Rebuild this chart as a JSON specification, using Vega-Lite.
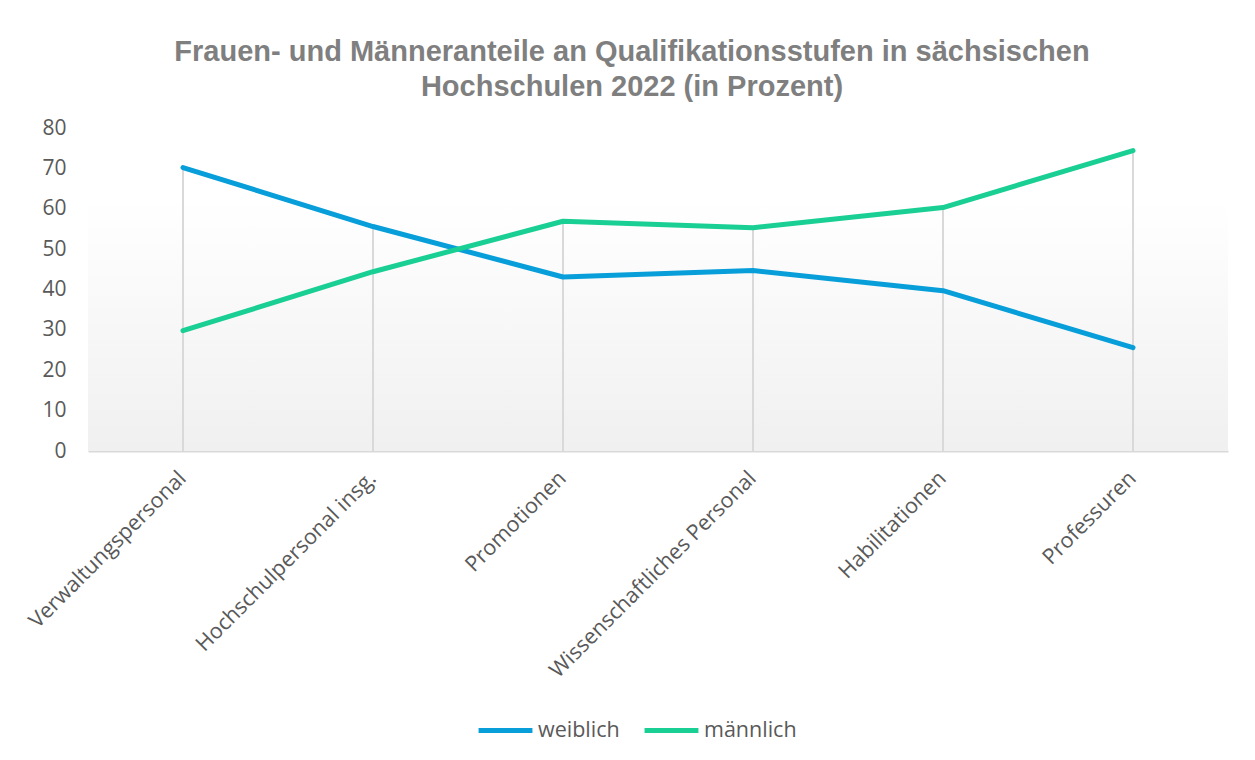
{
  "$schema": "https://vega.github.io/schema/vega-lite/v6.json",
  "autosize": "none",
  "width": 1140,
  "height": 323,
  "padding": {"left": 88, "top": 128, "right": 27, "bottom": 309},
  "background": "#ffffff",
  "config": {
    "view": {"stroke": null},
    "font": "Open Sans"
  },
  "title": {
    "text": ["Frauen- und Männeranteile an Qualifikationsstufen in sächsischen", "Hochschulen 2022 (in Prozent)"],
    "font": "Liberation Sans",
    "fontSize": 29,
    "fontWeight": "bold",
    "color": "#7f7f7f",
    "anchor": "middle",
    "dx": -26,
    "offset": 15,
    "lineHeight": 35
  },
  "data": {
    "values": [
      {"kategorie": "Verwaltungspersonal", "geschlecht": "weiblich", "wert": 70.2},
      {"kategorie": "Hochschulpersonal insg.", "geschlecht": "weiblich", "wert": 55.6},
      {"kategorie": "Promotionen", "geschlecht": "weiblich", "wert": 43.1},
      {"kategorie": "Wissenschaftliches Personal", "geschlecht": "weiblich", "wert": 44.7},
      {"kategorie": "Habilitationen", "geschlecht": "weiblich", "wert": 39.7},
      {"kategorie": "Professuren", "geschlecht": "weiblich", "wert": 25.6},
      {"kategorie": "Verwaltungspersonal", "geschlecht": "männlich", "wert": 29.8},
      {"kategorie": "Hochschulpersonal insg.", "geschlecht": "männlich", "wert": 44.4},
      {"kategorie": "Promotionen", "geschlecht": "männlich", "wert": 56.9},
      {"kategorie": "Wissenschaftliches Personal", "geschlecht": "männlich", "wert": 55.3},
      {"kategorie": "Habilitationen", "geschlecht": "männlich", "wert": 60.3},
      {"kategorie": "Professuren", "geschlecht": "männlich", "wert": 74.4}
    ]
  },
  "encoding": {
    "x": {
      "field": "kategorie",
      "type": "nominal",
      "sort": null,
      "scale": {"type": "band", "paddingInner": 0, "paddingOuter": 0},
      "axis": {
        "title": null,
        "labelAngle": -45,
        "labelAlign": "right",
        "labelBaseline": "middle",
        "labelFont": "Open Sans",
        "labelFontSize": 21.5,
        "labelColor": "#595959",
        "labelPadding": 24,
        "labelLimit": 0,
        "ticks": false,
        "domainColor": "#d9d9d9",
        "domainWidth": 2,
        "grid": false
      }
    }
  },
  "layer": [
    {
      "mark": {
        "type": "rect",
        "color": {
          "gradient": "linear",
          "x1": 0, "y1": 0, "x2": 0, "y2": 1,
          "stops": [
            {"offset": 0, "color": "#ffffff"},
            {"offset": 1, "color": "#f0f0f0"}
          ]
        }
      },
      "encoding": {
        "x": null,
        "y": {"datum": 62, "type": "quantitative"},
        "y2": {"datum": 0}
      }
    },
    {
      "mark": {"type": "rule", "color": "#d9d9d9", "strokeWidth": 2},
      "encoding": {
        "y": {"aggregate": "max", "field": "wert", "type": "quantitative"},
        "y2": {"datum": 0}
      }
    },
    {
      "mark": {"type": "line", "strokeWidth": 5, "strokeCap": "round", "strokeJoin": "round"},
      "encoding": {
        "y": {
          "field": "wert",
          "type": "quantitative",
          "scale": {"domain": [0, 80]},
          "axis": {
            "title": null,
            "values": [0, 10, 20, 30, 40, 50, 60, 70, 80],
            "grid": false,
            "domain": false,
            "ticks": false,
            "labelFont": "Open Sans",
            "labelFontSize": 21,
            "labelColor": "#595959",
            "labelPadding": 22
          }
        },
        "color": {
          "field": "geschlecht",
          "type": "nominal",
          "sort": ["weiblich", "männlich"],
          "scale": {"domain": ["weiblich", "männlich"], "range": ["#079ed9", "#19cf93"]},
          "legend": {
            "title": null,
            "orient": "none",
            "legendX": 388,
            "legendY": 573,
            "direction": "horizontal",
            "symbolType": "stroke",
            "symbolSize": 2900,
            "symbolStrokeWidth": 5,
            "labelFont": "Open Sans",
            "labelFontSize": 21.5,
            "labelColor": "#595959",
            "columnPadding": 14,
            "labelOffset": 3
          }
        }
      }
    }
  ]
}
